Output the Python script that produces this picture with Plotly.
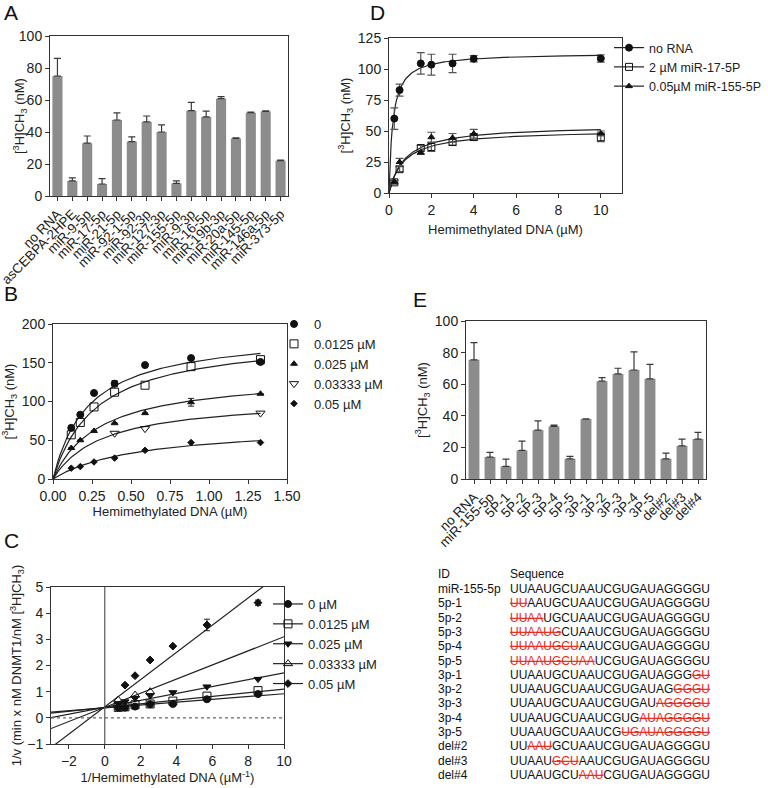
import numpy as np
import plotly.graph_objects as go

W, H = 768, 788
FONT = "Liberation Sans, Arial, sans-serif"
BAR = "#8c8c8c"
ERR = "#3a3a3a"
RED = "#e8291c"

# ---------------- Panel A ----------------
a_labels = ["no RNA", "asCEBPA-2HPE", "miR-9-5p", "miR-17-5p", "miR-21-5p", "miR-92-1-5p",
            "miR-92-3p", "miR-127-3p", "miR-155-5p", "miR-9-3p", "miR-16-5p", "miR-19b-3p",
            "miR-20a-5p", "miR-145-5p", "miR-146a-5p", "miR-373-5p"]
a_values = [75, 9.4, 33, 7.5, 47.5, 34, 46.3, 40, 7.9, 53.3, 49.4, 60.8, 36, 52.1, 52.9, 22.1]
a_err = [11, 1.9, 4.5, 3.3, 4.4, 2.9, 3.7, 4.4, 1.5, 5.2, 3.7, 1.3, 0.3, 0.3, 0.3, 0.3]

# ---------------- Panel B ----------------
b_dna = [0.117, 0.175, 0.263, 0.395, 0.59, 0.885, 1.33]
b_names = ["0", "0.0125 µM", "0.025 µM", "0.03333 µM", "0.05 µM"]
b_v0 = [66, 83, 111, 123, 147, 156, 151]
b_v1 = [57, 73, 93, 112, 121, 145, 154]
b_v2 = [40, 50, 62, 72, 85, 99, 110]
b_v3 = [None, None, None, 59, 65, None, 85]
b_v4 = [14, 16, 22, 27, 37, 47, 47]
b_e0 = [0, 0, 0, 4, 0, 0, 0]
b_e2 = [0, 0, 0, 0, 0, 5, 0]
b_vmax = [190, 185, 135, 105, 70]
b_km = [0.23, 0.28, 0.30, 0.32, 0.55]

# ---------------- Panel C ----------------
c_x = [8.55, 5.7, 3.8, 2.53, 1.69, 1.13, 0.75]
c_names = ["0 µM", "0.0125 µM", "0.025 µM", "0.03333 µM", "0.05 µM"]
c_v0 = [0.91, 0.71, 0.53, 0.52, 0.43, 0.39, 0.39]
c_v1 = [1.04, 0.83, 0.64, 0.53, 0.50, 0.42, 0.40]
c_v2 = [1.48, 1.19, 0.97, 0.85, 0.75, 0.62, 0.55]
c_v3 = [None, None, None, 1.0, 0.87, None, 0.68]
c_v4 = [4.4, 3.55, 2.74, 2.21, 1.61, 1.25, None]
c_e4 = [0.1, 0.22, 0, 0, 0, 0, 0]
c_slope = [0.054, 0.071, 0.132, 0.27, 0.52]
c_icpt = [0.38, 0.39, 0.40, 0.40, 0.42]

# ---------------- Panel D ----------------
d_dna = [0.25, 0.5, 1.5, 2, 3, 4, 10]
d_names = ["no RNA", "2 µM miR-17-5P", "0.05µM miR-155-5P"]
d_norna = [60, 83, 104.5, 103.5, 104.5, 108.3, 108.5]
d_norna_err = [8.7, 4.8, 8.7, 8.4, 7.4, 2.6, 3]
d_mir17 = [8.6, 19.2, 36.3, 37.1, 41.1, 45.1, 45]
d_mir17_err = [1.5, 2, 2, 3.5, 2.5, 2.5, 3.5]
d_mir155 = [9, 25, 32.6, 45, 44.5, 47.8, 48]
d_mir155_err = [1.5, 3, 1.5, 4, 3.5, 3.5, 2]
d_vmax = [113, 51, 55]
d_km = [0.18, 0.7, 0.75]

# ---------------- Panel E ----------------
e_labels = ["no RNA", "miR-155-5p", "5P-1", "5P-2", "5P-3", "5P-4", "5P-5", "3P-1", "3P-2",
            "3P-3", "3P-4", "3P-5", "del#2", "del#3", "del#4"]
e_values = [75.4, 13.9, 8, 18.1, 30.9, 33.3, 12.8, 37.9, 61.9, 66.5, 69, 63.4, 12.8, 21, 25.3]
e_err = [10.9, 2.9, 4.6, 5.9, 5.9, 0.8, 1.5, 0.1, 2.3, 3.6, 11.4, 9.2, 3.6, 4.3, 4.2]

# ---------------- Sequence table ----------------
seq_base = "UUAAUGCUAAUCGUGAUAGGGGU"
seq_ids = ["miR-155-5p", "5p-1", "5p-2", "5p-3", "5p-4", "5p-5", "3p-1", "3p-2", "3p-3",
           "3p-4", "3p-5", "del#2", "del#3", "del#4"]
seq_del_start = [None, 0, 0, 0, 0, 0, 21, 19, 17, 15, 13, 2, 5, 8]
seq_del_end = [None, 2, 4, 6, 8, 10, 23, 23, 23, 23, 23, 5, 8, 11]


def dx(a, b):
    return [a / W, b / W]


def dy(top, bottom):
    return [1 - bottom / H, 1 - top / H]


fig = go.Figure()

TICKF = dict(family=FONT, size=14, color="#222")
axis_common = dict(showline=True, linecolor="#333", linewidth=1, mirror=True,
                   ticks="outside", ticklen=4, tickcolor="#333", showgrid=False,
                   zeroline=False, tickfont=TICKF, automargin=False,
                   title_font=dict(family=FONT, size=13, color="#222"))

# ---- A bars
fig.add_trace(go.Bar(x=a_labels, y=a_values, marker_color=BAR, marker_line_width=0,
                     error_y=dict(type="data", array=a_err, arrayminus=[0] * len(a_err),
                                  symmetric=False, color=ERR, thickness=1.2, width=3.5),
                     showlegend=False, xaxis="x", yaxis="y"))

# ---- B scatter + curves
b_series = [b_v0, b_v1, b_v2, b_v3, b_v4]
b_errs = [b_e0, None, b_e2, None, None]
b_symbols = ["circle", "square-open", "triangle-up", "triangle-down-open", "diamond"]
b_sizes = [7, 8, 6, 8, 5]
b_grid = np.linspace(0, 1.33, 120)
for i, vals in enumerate(b_series):
    fig.add_trace(go.Scatter(x=b_grid, y=b_vmax[i] * b_grid / (b_km[i] + b_grid), mode="lines",
                             line=dict(color="#222", width=1.2), showlegend=False,
                             xaxis="x2", yaxis="y2", hoverinfo="skip"))
for i, vals in enumerate(b_series):
    err = dict(type="data", array=b_errs[i], color="#222", thickness=1, width=3) if b_errs[i] else None
    fig.add_trace(go.Scatter(x=b_dna, y=vals, mode="markers", name=b_names[i],
                             marker=dict(symbol=b_symbols[i], size=b_sizes[i], color="#111",
                                         line=dict(color="#111", width=1)),
                             error_y=err, xaxis="x2", yaxis="y2", legend="legend"))

# ---- C lines + points
c_series = [c_v0, c_v1, c_v2, c_v3, c_v4]
c_symbols = ["circle", "square-open", "triangle-down", "triangle-up-open", "diamond"]
c_sizes = [7, 8, 7, 8, 6]
c_xr = np.array([-3.0, 10.0])
for i in range(5):
    fig.add_trace(go.Scatter(x=c_xr, y=c_slope[i] * c_xr + c_icpt[i], mode="lines",
                             line=dict(color="#222", width=1.2), showlegend=False,
                             xaxis="x3", yaxis="y3", hoverinfo="skip"))
for i, vals in enumerate(c_series):
    err = dict(type="data", array=c_e4, color="#222", thickness=1, width=3) if i == 4 else None
    fig.add_trace(go.Scatter(x=c_x, y=vals, mode="markers", showlegend=False,
                             marker=dict(symbol=c_symbols[i], size=c_sizes[i], color="#111",
                                         line=dict(color="#111", width=1)),
                             error_y=err, xaxis="x3", yaxis="y3"))
    fig.add_trace(go.Scatter(x=[None], y=[None], mode="lines+markers", name=c_names[i],
                             marker=dict(symbol=c_symbols[i], size=c_sizes[i], color="#111",
                                         line=dict(color="#111", width=1)),
                             line=dict(color="#222", width=1.2),
                             xaxis="x3", yaxis="y3", legend="legend2"))

# ---- D
d_series = [d_norna, d_mir17, d_mir155]
d_errs = [d_norna_err, d_mir17_err, d_mir155_err]
d_symbols = ["circle", "square-open", "triangle-up"]
d_sizes = [7, 7, 6]
d_grid = np.linspace(0, 10, 200)
for i in range(3):
    fig.add_trace(go.Scatter(x=d_grid, y=d_vmax[i] * d_grid / (d_km[i] + d_grid), mode="lines",
                             line=dict(color="#222", width=1.2), showlegend=False,
                             xaxis="x4", yaxis="y4", hoverinfo="skip"))
for i, vals in enumerate(d_series):
    fig.add_trace(go.Scatter(x=d_dna, y=vals, mode="markers", showlegend=False,
                             marker=dict(symbol=d_symbols[i], size=d_sizes[i], color="#111",
                                         line=dict(color="#111", width=1)),
                             error_y=dict(type="data", array=d_errs[i], color="#555",
                                          thickness=1.2, width=4),
                             xaxis="x4", yaxis="y4"))
    fig.add_trace(go.Scatter(x=[None], y=[None], mode="lines+markers", name=d_names[i],
                             marker=dict(symbol=d_symbols[i], size=d_sizes[i], color="#111",
                                         line=dict(color="#111", width=1)),
                             line=dict(color="#222", width=1.2),
                             xaxis="x4", yaxis="y4", legend="legend3"))

# ---- E bars
fig.add_trace(go.Bar(x=e_labels, y=e_values, marker_color=BAR, marker_line_width=0,
                     error_y=dict(type="data", array=e_err, arrayminus=[0] * len(e_err),
                                  symmetric=False, color=ERR, thickness=1.2, width=3.5),
                     showlegend=False, xaxis="x5", yaxis="y5"))

ytitle = "[<sup>3</sup>H]CH<sub>3</sub> (nM)"
CATF = dict(family=FONT, size=13.5, color="#222")

fig.update_layout(
    width=W, height=H, autosize=False, margin=dict(l=0, r=0, t=0, b=0, autoexpand=False),
    paper_bgcolor="white", plot_bgcolor="white", bargap=0.32,
    font=dict(family=FONT, size=13, color="#222"),
    xaxis=dict(axis_common, domain=dx(50, 288), anchor="y", tickangle=-45,
               tickmode="array", tickvals=a_labels, ticktext=a_labels, tickfont=CATF),
    yaxis=dict(axis_common, domain=dy(36, 196), anchor="x", range=[0, 100], dtick=20),
    xaxis2=dict(axis_common, domain=dx(53, 287), anchor="y2", range=[0, 1.5], dtick=0.25,
                tickformat=".2f", title=dict(text="Hemimethylated DNA (µM)", standoff=3)),
    yaxis2=dict(axis_common, domain=dy(324, 479), anchor="x2", range=[0, 200], dtick=50,
                title=dict(text=ytitle, standoff=4)),
    xaxis3=dict(axis_common, domain=dx(51, 284), anchor="y3", range=[-3, 10], dtick=2,
                title=dict(text="1/Hemimethylated DNA (µM<sup>-1</sup>)", standoff=3)),
    yaxis3=dict(axis_common, domain=dy(587, 744), anchor="x3", range=[-1, 5], dtick=1,
                title=dict(text="1/v (min x nM DNMT1/nM [<sup>3</sup>H]CH<sub>3</sub>)", standoff=2)),
    xaxis4=dict(axis_common, domain=dx(389, 622), anchor="y4", range=[0, 11], dtick=2,
                tick0=0, title=dict(text="Hemimethylated DNA (µM)", standoff=8)),
    yaxis4=dict(axis_common, domain=dy(38, 193), anchor="x4", range=[0, 125], dtick=25,
                title=dict(text=ytitle, standoff=4)),
    xaxis5=dict(axis_common, domain=dx(466, 706), anchor="y5", tickangle=-45,
                tickmode="array", tickvals=e_labels, ticktext=e_labels, tickfont=CATF),
    yaxis5=dict(axis_common, domain=dy(321, 479), anchor="x5", range=[0, 100], dtick=20,
                title=dict(text=ytitle, standoff=4)),
    legend=dict(x=274 / W, y=1 - 309 / H, xanchor="left", yanchor="top",
                bgcolor="rgba(0,0,0,0)", font=dict(family=FONT, size=13, color="#222"),
                tracegroupgap=0),
    legend2=dict(x=268 / W, y=1 - 589 / H, xanchor="left", yanchor="top",
                 bgcolor="rgba(0,0,0,0)", font=dict(family=FONT, size=13, color="#222")),
    legend3=dict(x=609 / W, y=1 - 33 / H, xanchor="left", yanchor="top",
                 bgcolor="rgba(0,0,0,0)", font=dict(family=FONT, size=12.5, color="#222")),
)

# y title of panel A (placed close to the axis as in the reference)
fig.add_annotation(text=ytitle, x=20 / W, y=1 - 116 / H, xref="paper", yref="paper",
                   xanchor="center", yanchor="middle", textangle=-90, showarrow=False,
                   font=dict(family=FONT, size=13, color="#222"))

# vertical solid line at x=0 and dotted at y=0 in C
fig.add_shape(type="line", xref="x3", yref="y3 domain", x0=0, x1=0, y0=0, y1=1,
              line=dict(color="#555", width=1.2))
fig.add_shape(type="line", xref="x3 domain", yref="y3", x0=0, x1=1, y0=0, y1=0,
              line=dict(color="#666", width=1.2, dash="dot"))

# panel letters
letters = [("A", 2, 12), ("B", 2, 294), ("C", 2, 540), ("D", 368, 12), ("E", 411, 299)]
for t, x, y in letters:
    fig.add_annotation(text=t, x=x / W, y=1 - y / H, xref="paper", yref="paper",
                       xanchor="left", yanchor="middle", showarrow=False,
                       font=dict(family=FONT, size=21, color="#111"))

# sequence table
TF = dict(family=FONT, size=12, color="#111")
row0, rowh = 589, 14.3
fig.add_annotation(text="ID", x=436 / W, y=1 - 574 / H, xref="paper", yref="paper",
                   xanchor="left", yanchor="middle", showarrow=False, font=TF)
fig.add_annotation(text="Sequence", x=508 / W, y=1 - 574 / H, xref="paper", yref="paper",
                   xanchor="left", yanchor="middle", showarrow=False, font=TF)
for i, sid in enumerate(seq_ids):
    s, e = seq_del_start[i], seq_del_end[i]
    if s is None:
        txt = seq_base
    else:
        txt = (seq_base[:s] + f'<span style="color:{RED};text-decoration:line-through">'
               + seq_base[s:e] + "</span>" + seq_base[e:])
    yy = 1 - (row0 + i * rowh) / H
    fig.add_annotation(text=sid, x=436 / W, y=yy, xref="paper", yref="paper",
                       xanchor="left", yanchor="middle", showarrow=False, font=TF)
    fig.add_annotation(text=txt, x=508 / W, y=yy, xref="paper", yref="paper",
                       xanchor="left", yanchor="middle", showarrow=False, font=TF)

fig.write_html("out.html")
